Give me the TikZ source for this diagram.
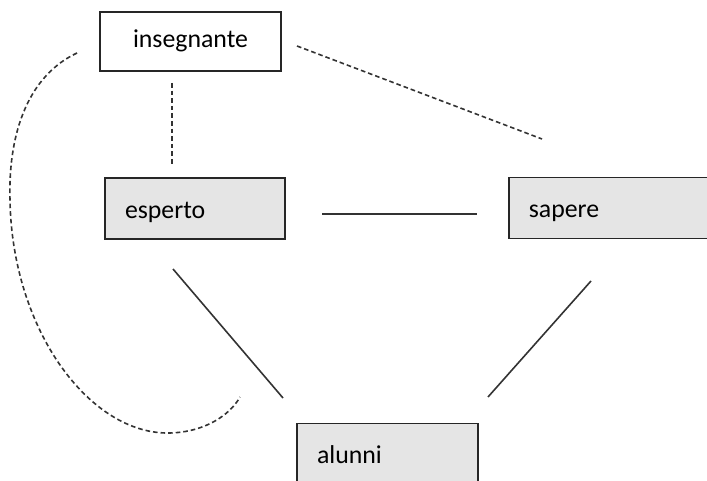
\documentclass[tikz,border=0pt]{standalone}
\usepackage{fontspec}
\setmainfont{Carlito}
\usepackage{tikz}

\tikzset{
    wbox/.style={draw=black!85, line width=0.8pt, minimum width=90.5pt, minimum height=29.5pt,
        inner sep=0pt, text height=9pt, text depth=2.5pt},
    gbox/.style={draw=black!85, fill=black!10, line width=0.8pt, inner xsep=10pt, inner ysep=0pt,
        text width=70pt, align=left, minimum height=30.5pt, text height=12pt, text depth=2.5pt},
    link/.style={draw=black!80, line width=0.8pt},
    dlink/.style={draw=black!80, line width=0.8pt, dash pattern=on 2.3pt off 1.5pt}
}

\begin{document}
\begin{tikzpicture}[x=0.5pt, y=-0.5pt, font=\fontsize{12.9}{15}\selectfont]
        \useasboundingbox (0,0) rectangle (707,481);

        \node[wbox] (insegnante) at (190.5,41.5) {insegnante};
        \node[gbox] (esperto) at (195,208.5) {esperto};
        \node[gbox, text width=110pt, anchor=west] (sapere) at (508,208) {sapere};
        \node[gbox, text width=70.5pt] (alunni) at (387.5,454) {alunni};

        % free ends of the connectors
        \coordinate (i1) at (172,83);
        \coordinate (e1) at (172,166);
        \coordinate (i2) at (297,46);
        \coordinate (s1) at (542,139);
        \coordinate (e2) at (322,214);
        \coordinate (s2) at (477,214);
        \coordinate (e3) at (173,269);
        \coordinate (a1) at (283,398);
        \coordinate (s3) at (591,281);
        \coordinate (a2) at (488,397);
        \coordinate (i3) at (77,53);
        \coordinate (a3) at (240,397);

        \draw[dlink] (i1) -- (e1);
        \draw[dlink] (i2) -- (s1);
        \draw[link] (e2) -- (s2);
        \draw[link] (e3) -- (a1);
        \draw[link] (s3) -- (a2);
        \draw[dlink] (i3) .. controls (30,75) and (8,130) .. (10,200)
            .. controls (12,330) and (90,435) .. (170,433)
            .. controls (205,432) and (230,415) .. (a3);
    \end{tikzpicture}
\end{document}
